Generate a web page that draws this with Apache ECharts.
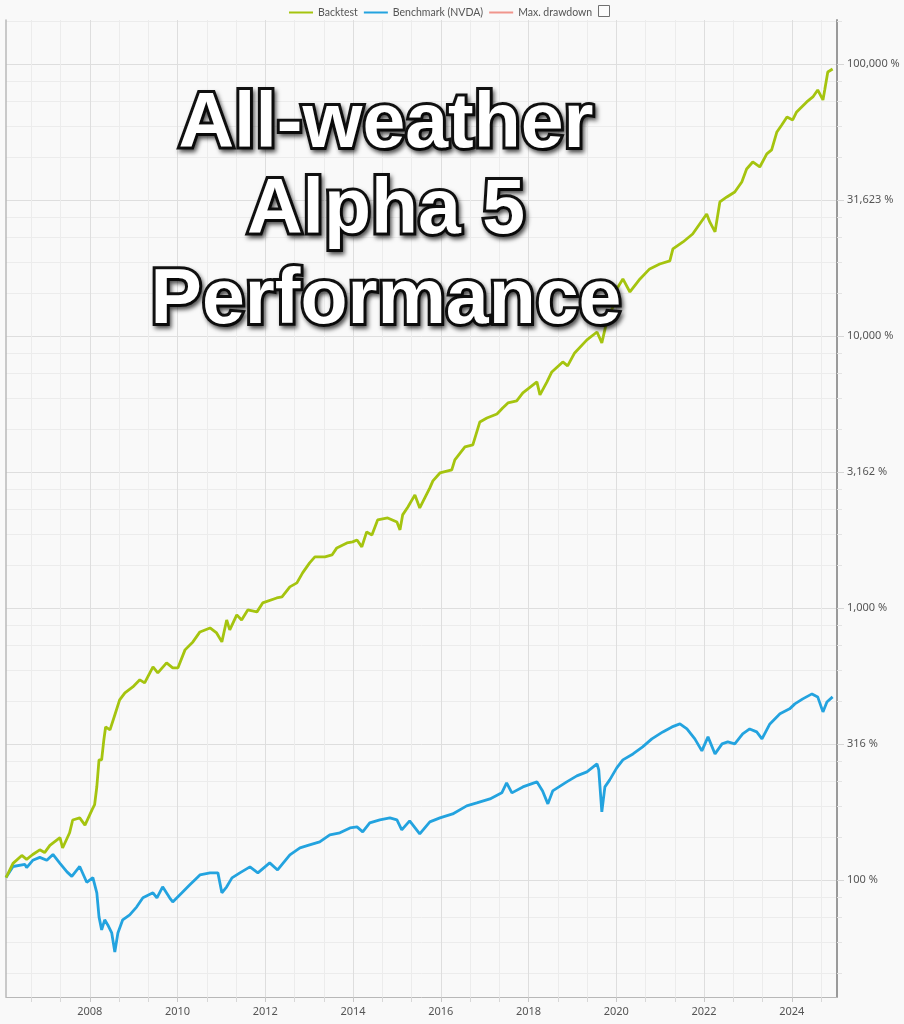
<!DOCTYPE html>
<html><head><meta charset="utf-8">
<script src="https://cdn.jsdelivr.net/npm/echarts@6/dist/echarts.min.js"></script>
<style>html,body{margin:0;padding:0;background:#f9f9f9}#c{width:904px;height:1024px}</style>
</head><body><div id="c"></div>
<script>
// ---- data ----
const seriesNames = ['Backtest', 'Benchmark (NVDA)', 'Max. drawdown'];

const backtestYears = [2006.09,2006.25,2006.45,2006.56,2006.70,2006.86,2006.97,2007.09,2007.32,2007.38,2007.54,2007.61,2007.77,2007.89,2008.05,2008.11,2008.16,2008.21,2008.27,2008.32,2008.36,2008.46,2008.57,2008.68,2008.80,2008.98,2009.14,2009.25,2009.44,2009.55,2009.75,2009.89,2010.01,2010.17,2010.35,2010.51,2010.74,2010.89,2011.01,2011.12,2011.19,2011.35,2011.46,2011.60,2011.81,2011.94,2012.26,2012.38,2012.56,2012.72,2012.85,2013.01,2013.13,2013.36,2013.52,2013.63,2013.86,2013.99,2014.09,2014.20,2014.31,2014.43,2014.56,2014.79,2015.00,2015.07,2015.13,2015.25,2015.41,2015.52,2015.75,2015.82,2015.98,2016.25,2016.32,2016.55,2016.73,2016.89,2017.05,2017.28,2017.41,2017.53,2017.73,2017.87,2018.19,2018.26,2018.42,2018.53,2018.78,2018.89,2019.05,2019.33,2019.56,2019.67,2019.78,2019.92,2020.01,2020.15,2020.31,2020.54,2020.76,2020.99,2021.22,2021.29,2021.52,2021.74,2021.90,2022.06,2022.13,2022.25,2022.36,2022.52,2022.70,2022.86,2022.97,2023.11,2023.27,2023.43,2023.54,2023.66,2023.77,2023.89,2024.02,2024.11,2024.34,2024.48,2024.59,2024.71,2024.75,2024.82,2024.93];
const backtestValues = [102,115,123,119,124,129,126,134,143,131,149,166,169,159,181,189,220,276,276,327,365,356,404,459,487,512,544,530,607,577,628,602,602,701,750,816,844,809,750,903,830,943,903,983,967,1043,1088,1097,1195,1236,1345,1464,1540,1540,1566,1662,1734,1749,1778,1676,1903,1855,2106,2142,2071,1936,2198,2351,2603,2332,2762,2931,3135,3217,3500,3907,3974,4829,4995,5167,5437,5672,5768,6172,6774,6068,6774,7373,8024,7757,8660,9670,10340,9430,11260,12780,14890,16200,14510,16200,17640,18390,18870,20890,22160,23710,25810,28090,26250,24130,31090,32430,33830,36830,41110,43620,41810,46690,48290,56230,59660,63860,62260,66620,72500,75630,80240,73730,80240,93460,95860];

const benchmarkYears = [2006.09,2006.25,2006.52,2006.56,2006.70,2006.86,2007.02,2007.16,2007.32,2007.48,2007.59,2007.77,2007.93,2008.07,2008.16,2008.21,2008.27,2008.34,2008.41,2008.50,2008.57,2008.64,2008.75,2008.91,2009.07,2009.21,2009.44,2009.53,2009.66,2009.82,2009.89,2010.10,2010.28,2010.51,2010.74,2010.92,2011.01,2011.12,2011.24,2011.42,2011.65,2011.83,2012.10,2012.28,2012.56,2012.79,2013.01,2013.24,2013.47,2013.70,2013.93,2014.09,2014.22,2014.38,2014.61,2014.84,2015.00,2015.11,2015.29,2015.52,2015.75,2015.98,2016.27,2016.59,2016.82,2017.12,2017.39,2017.50,2017.62,2017.87,2018.19,2018.32,2018.44,2018.55,2018.87,2019.10,2019.33,2019.56,2019.60,2019.67,2019.74,2019.85,2020.01,2020.15,2020.38,2020.60,2020.81,2021.06,2021.27,2021.45,2021.61,2021.79,2021.95,2022.09,2022.25,2022.41,2022.54,2022.70,2022.88,2023.04,2023.20,2023.32,2023.50,2023.73,2023.95,2024.07,2024.25,2024.46,2024.59,2024.71,2024.80,2024.93];
const benchmarkValues = [102,112,114,111,118,121,118,124,115,107,103,112,98,102,89.6,73.1,65.5,71.3,68.3,63.8,54.3,63.8,71.3,74.4,79.6,85.9,89.6,85.9,94.3,85.9,83.0,89.6,95.9,104.3,106.1,106.1,89.6,94.3,101.7,106.1,111.6,106.1,115.5,108.8,123.6,131.1,134.5,138.0,146.4,148.9,155.3,156.6,150.1,162.0,166.2,169.0,166.2,152.7,164.8,147.6,163.4,169.0,174.8,187.1,191.9,198.5,208.9,227.3,208.9,219.7,229.3,212.4,190.3,212.4,229.3,241.2,249.5,267.0,253.7,177.8,219.7,233.2,258.1,276.2,290.5,308.3,329.9,350.0,365.1,374.6,359.0,329.9,298.1,335.6,290.5,316.2,321.7,316.2,344.1,359.0,350.0,329.9,374.6,407.8,425.4,443.7,462.9,482.9,470.8,414.6,451.1,470.8];

const drawdownValues = [];

const xTickYears = [2008, 2010, 2012, 2014, 2016, 2018, 2020, 2022, 2024];
const yTickValues = [100, 316.2278, 1000, 3162.278, 10000, 31622.78, 100000];
const titleLines = ['All-weather', 'Alpha 5', 'Performance'];

// ---- chart ----
const X_MIN = 2006.09, X_MAX = 2025.03;
const Y_MIN = 37.1, Y_MAX = 145100;
const FONT = '"Noto Sans", "Open Sans", sans-serif';

function pct(v) {
  return String(Math.round(v)).replace(/\B(?=(\d{3})+(?!\d))/g, ',') + ' %';
}
// minor grid: 3 parts per 2-year step, 5 linear parts per half-decade step
const minorX = [];
for (let y = 2006; y <= 2024; y += 2) {
  [y + 2 / 3, y + 4 / 3].forEach(v => { if (v > X_MIN && v < X_MAX) minorX.push(v); });
}
const yEdges = [31.62278].concat(yTickValues, [316227.8]);
const minorY = [];
for (let i = 1; i < yEdges.length; i++) {
  const a = yEdges[i - 1], b = yEdges[i];
  for (let k = 1; k < 5; k++) {
    const v = a + (b - a) * k / 5;
    if (v > Y_MIN && v < Y_MAX) minorY.push(v);
  }
}

const chart = echarts.init(document.getElementById('c'), null, { renderer: 'canvas' });
chart.setOption({
  animation: false,
  backgroundColor: '#f9f9f9',
  textStyle: { fontFamily: FONT },
  grid: { left: 6, right: 67, top: 20, bottom: 27 },
  legend: {
    data: seriesNames, left: 284, top: 2, icon: 'rect', itemWidth: 24, itemHeight: 2, itemGap: 6,
    textStyle: { fontSize: 10.5, color: '#555', fontFamily: 'Lato, "Noto Sans", sans-serif' }
  },
  xAxis: [
    {
      type: 'value', min: X_MIN, max: X_MAX, position: 'bottom',
      axisLine: { show: true, lineStyle: { color: '#b8b8b8', width: 1 } },
      axisTick: { show: true, customValues: xTickYears, length: 5, lineStyle: { color: '#c8c8c8' } },
      axisLabel: { customValues: xTickYears, formatter: v => String(Math.round(v)), color: '#555', fontSize: 11, margin: 9 },
      splitLine: { show: true, lineStyle: { color: '#dedede', width: 1 } }
    },
    {
      type: 'value', min: X_MIN, max: X_MAX, position: 'bottom',
      axisLine: { show: false },
      axisTick: { show: true, customValues: minorX, length: 5, lineStyle: { color: '#d8d8d8' } },
      axisLabel: { show: false },
      splitLine: { show: true, lineStyle: { color: '#ececec', width: 1 } }
    }
  ],
  yAxis: [
    {
      type: 'log', logBase: 10, min: Y_MIN, max: Y_MAX, position: 'right',
      axisLine: { show: true, lineStyle: { color: '#9a9a9a', width: 2 } },
      axisTick: { show: true, customValues: yTickValues, length: 7, lineStyle: { color: '#d6d6d6' } },
      axisLabel: { customValues: yTickValues, formatter: pct, color: '#555', fontSize: 11, margin: 10 },
      splitLine: { show: true, lineStyle: { color: '#dedede', width: 1 } }
    },
    {
      type: 'log', logBase: 10, min: Y_MIN, max: Y_MAX, position: 'right',
      axisLine: { show: false },
      axisTick: { show: true, customValues: minorY, length: 5, lineStyle: { color: '#e4e4e4' } },
      axisLabel: { show: false },
      splitLine: { show: true, lineStyle: { color: '#ececec', width: 1 } }
    },
    {
      type: 'log', logBase: 10, min: Y_MIN, max: Y_MAX, position: 'left',
      axisLine: { show: true, lineStyle: { color: '#b8b8b8', width: 1.5 } },
      axisTick: { show: false }, axisLabel: { show: false }, splitLine: { show: false }
    }
  ],
  series: [
    {
      name: seriesNames[0], type: 'line', xAxisIndex: 0, yAxisIndex: 0, showSymbol: false, symbol: 'none',
      color: '#a5c40f', lineStyle: { width: 2.8, color: '#a5c40f' }, z: 4,
      data: backtestYears.map((t, i) => [t, backtestValues[i]])
    },
    {
      name: seriesNames[1], type: 'line', xAxisIndex: 0, yAxisIndex: 0, showSymbol: false, symbol: 'none',
      color: '#23a3df', lineStyle: { width: 2.8, color: '#23a3df' }, z: 3,
      data: benchmarkYears.map((t, i) => [t, benchmarkValues[i]])
    },
    {
      name: seriesNames[2], type: 'line', xAxisIndex: 0, yAxisIndex: 0, showSymbol: false, symbol: 'none',
      color: '#f0958c', lineStyle: { width: 2, color: '#f0958c' },
      data: drawdownValues
    }
  ],
  graphic: [
    {
      type: 'rect', z: 50, shape: { x: 598.5, y: 5.5, width: 11, height: 11 },
      style: { fill: '#fbfbfb', stroke: '#707070', lineWidth: 1 }
    }
  ].concat(titleLines.map((t, i) => ({
    type: 'text', z: 100, x: 386, y: [126, 212, 302][i],
    style: {
      text: t, font: 'bold 77px "Liberation Sans", Arial, sans-serif',
      fill: '#ffffff', stroke: '#111111', lineWidth: 6,
      align: 'center', verticalAlign: 'middle', textAlign: 'center', textVerticalAlign: 'middle',
      textShadowColor: 'rgba(0,0,0,0.55)', textShadowBlur: 4, textShadowOffsetX: 2, textShadowOffsetY: 3
    }
  })))
});
</script>
</body></html>
